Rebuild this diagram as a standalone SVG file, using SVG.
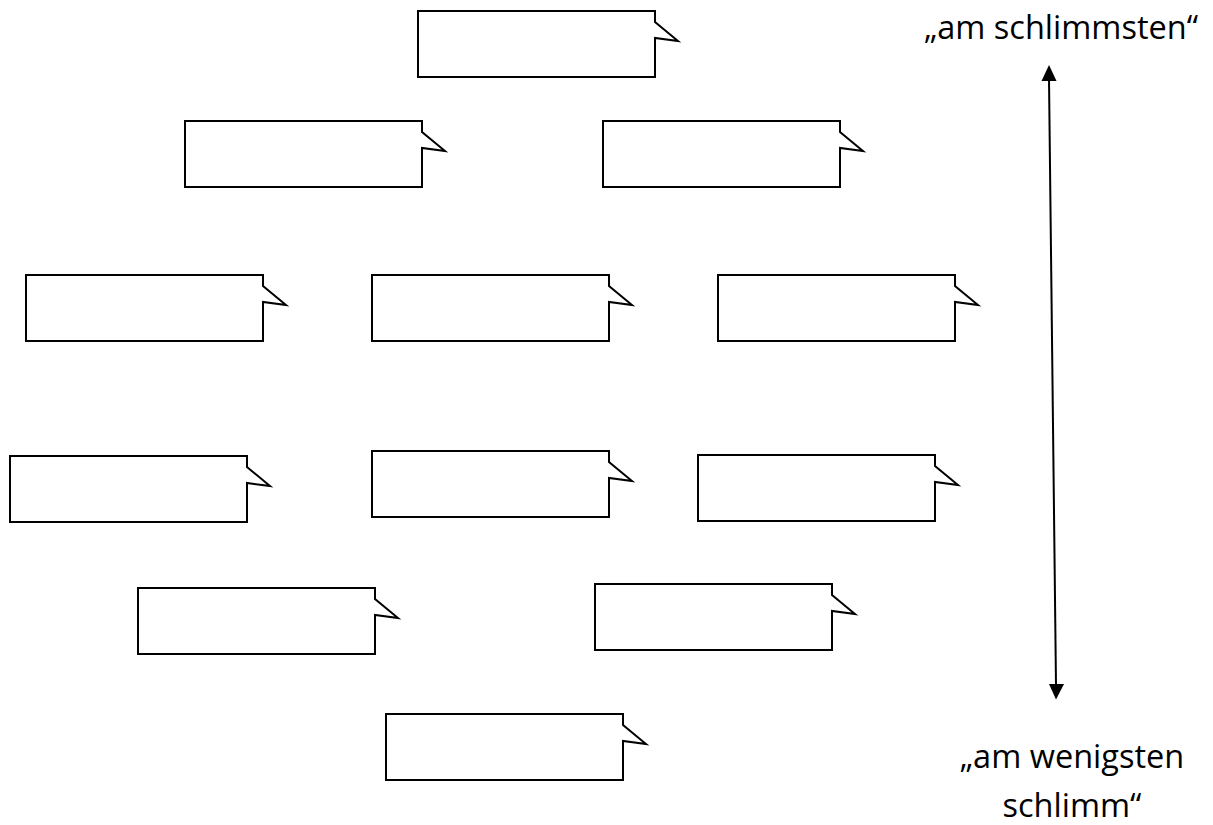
<svg xmlns="http://www.w3.org/2000/svg" width="1213" height="825" viewBox="0 0 1213 825">
<style>
.box{fill:#fff;stroke:#000;stroke-width:2;stroke-linejoin:miter}
.lbl{font-family:"Open Sans","Noto Sans",sans-serif;font-size:32.5px;fill:#000;text-anchor:middle}
.ln{stroke:#000;stroke-width:2;fill:none}
</style>
<defs>
<path id="callout" d="M0,0 H237 V11 L260,30 L237,27 V66 H0 Z"/>
</defs>
<g id="node1"><use href="#callout" class="box" transform="translate(418,11)"/></g>
<g id="node2"><use href="#callout" class="box" transform="translate(185,121)"/></g>
<g id="node3"><use href="#callout" class="box" transform="translate(603,121)"/></g>
<g id="node4"><use href="#callout" class="box" transform="translate(26,275)"/></g>
<g id="node5"><use href="#callout" class="box" transform="translate(372,275)"/></g>
<g id="node6"><use href="#callout" class="box" transform="translate(718,275)"/></g>
<g id="node7"><use href="#callout" class="box" transform="translate(10,456)"/></g>
<g id="node8"><use href="#callout" class="box" transform="translate(372,451)"/></g>
<g id="node9"><use href="#callout" class="box" transform="translate(698,455)"/></g>
<g id="node10"><use href="#callout" class="box" transform="translate(138,588)"/></g>
<g id="node11"><use href="#callout" class="box" transform="translate(595,584)"/></g>
<g id="node12"><use href="#callout" class="box" transform="translate(386,714)"/></g>
<g id="connectors">
<line class="ln" x1="1049" y1="79" x2="1056" y2="685"/>
<polygon points="1049,65 1041.5,81 1056.5,81" fill="#000"/>
<polygon points="1056,699.5 1049,684 1064,684" fill="#000"/>
</g>
<g id="labels">
<text class="lbl" x="1061" y="39">„am schlimmsten“</text>
<text class="lbl" x="1072" y="768">„am wenigsten</text>
<text class="lbl" x="1072" y="817">schlimm“</text>
</g>
</svg>
